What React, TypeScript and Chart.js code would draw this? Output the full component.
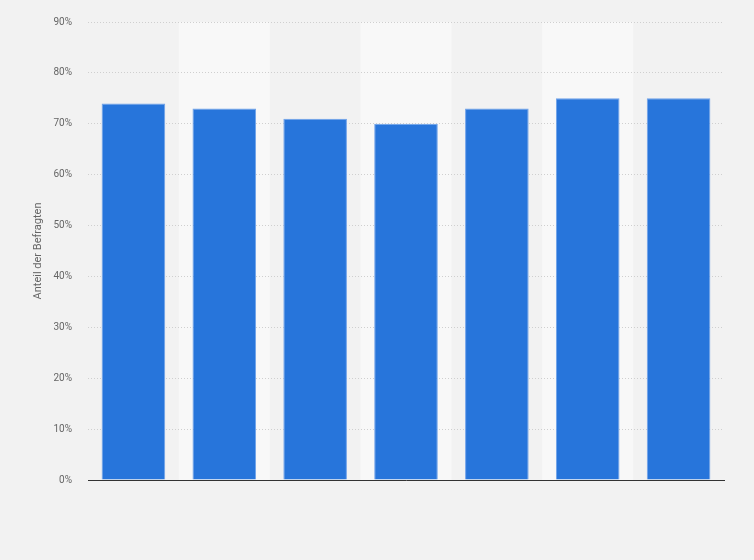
import React, { useEffect, useRef } from "react";
import { Chart, registerables } from "chart.js";

Chart.register(...registerables);

const categories: string[] = ["", "", "", "", "", "", ""];
const values: number[] = [74, 73, 71, 70, 73, 75, 75];
const yTicks: number[] = [0, 10, 20, 30, 40, 50, 60, 70, 80, 90];
const yTitle = "Anteil der Befragten";

const bgPlugin = {
  id: "bgBands",
  beforeDraw(chart: any) {
    const { ctx, chartArea, scales } = chart;
    ctx.save();
    ctx.fillStyle = "#f2f2f2";
    ctx.fillRect(0, 0, chart.width, chart.height);
    const x = scales.x;
    const n = categories.length;
    const step = (chartArea.right - chartArea.left) / n;
    ctx.fillStyle = "#f8f8f8";
    for (let i = 1; i < n; i += 2) {
      const c = x.getPixelForValue(i);
      ctx.fillRect(c - step / 2, chartArea.top, step, chartArea.bottom - chartArea.top);
    }
    ctx.restore();
  },
};

export default function App() {
  const ref = useRef<HTMLCanvasElement>(null);
  useEffect(() => {
    document.body.style.margin = "0";
    const chart = new Chart(ref.current!, {
      type: "bar",
      data: {
        labels: categories,
        datasets: [
          {
            data: values,
            backgroundColor: "#2775db",
            borderColor: "#6fa2ea",
            borderWidth: 1,
            barPercentage: 0.7,
            categoryPercentage: 1,
          },
        ],
      },
      options: {
        animation: false,
        responsive: false,
        maintainAspectRatio: false,
        layout: { padding: { left: 0, right: 30, top: 20, bottom: 0 } },
        plugins: { legend: { display: false }, tooltip: { enabled: false } },
        scales: {
          x: {
            grid: { display: true, color: "transparent", drawTicks: false },
            border: { display: true, color: "#333333", width: 1 },
            ticks: { display: false },
            afterFit(scale: any) {
              scale.height = 80;
            },
          },
          y: {
            min: 0,
            max: 90,
            afterBuildTicks(scale: any) {
              scale.ticks = yTicks.map((v) => ({ value: v }));
            },
            grid: {
              color: "#cfcfcf",
              drawTicks: false,
              lineWidth: 1,
            },
            border: { display: false, dash: [1, 2] },
            ticks: {
              padding: 16,
              color: "#666666",
              font: { family: "Roboto", size: 10 },
              callback: (v: any) => v + "%",
            },
            title: {
              display: true,
              text: yTitle,
              color: "#666666",
              font: { family: "Roboto", size: 11 },
              padding: { top: 32, bottom: 0 },
            },
            afterFit(scale: any) {
              scale.width = 88;
            },
          },
        },
      },
      plugins: [bgPlugin],
    });
    return () => chart.destroy();
  }, []);
  return (
    <div style={{ position: "absolute", left: 0, top: 0, width: 754, height: 560 }}>
      <canvas ref={ref} width={754} height={560} style={{ width: 754, height: 560 }} />
    </div>
  );
}
